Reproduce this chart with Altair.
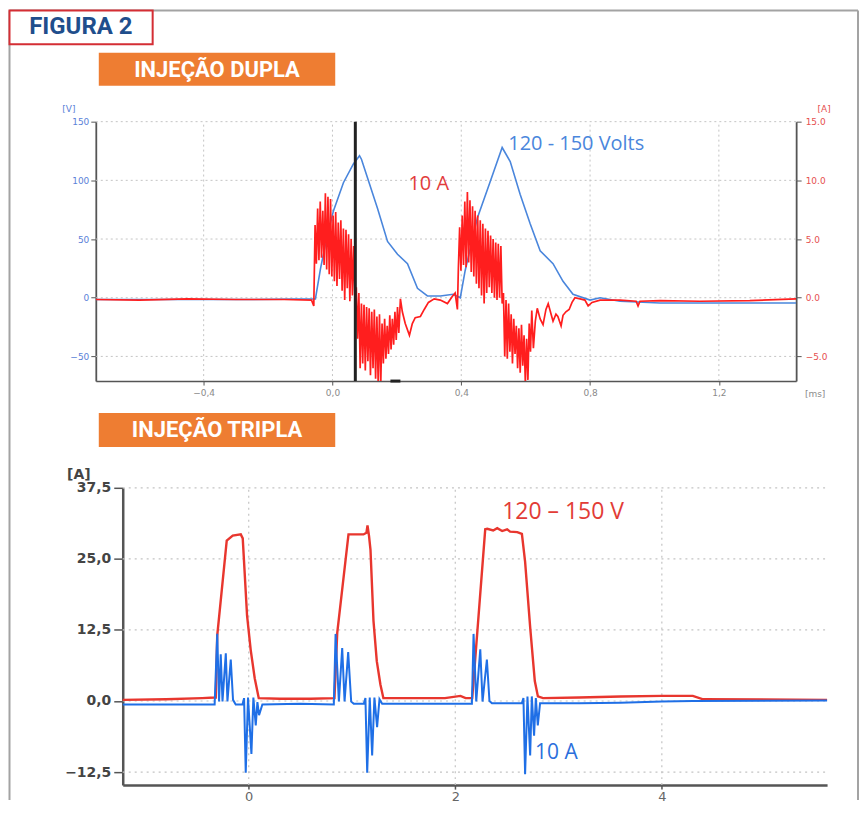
import altair as alt
import pandas as pd

# ======================= TOP PANEL: INJEÇÃO DUPLA =======================
TOP_T_DOMAIN = [-0.735, 1.44]      # ms
TOP_V_DOMAIN = [-71, 150]          # V (left axis)
TOP_A_DOMAIN = [-7.1, 15.0]        # A (right axis)
TOP_T_TICKS = [-0.4, 0.0, 0.4, 0.8, 1.2]
TOP_V_TICKS = [-50, 0, 50, 100, 150]
TOP_A_TICKS = [-5, 0, 5, 10, 15]

# voltage trace (blue, V)
VOLT_T = [-0.735, -0.5, -0.25, -0.053, -0.045, -0.037, -0.017, 0.003, 0.034, 0.065,
          0.084, 0.090, 0.109, 0.140, 0.171, 0.202, 0.233, 0.264, 0.295, 0.335,
          0.375, 0.397, 0.412, 0.450, 0.490, 0.527, 0.552, 0.583, 0.614, 0.645,
          0.685, 0.716, 0.747, 0.800, 0.831, 0.893, 1.017, 1.44]
VOLT_V = [-1.5, -1.5, -1.5, -1.0, 12, 25, 52, 74, 98, 114,
          121, 118, 102, 76, 48, 37, 29, 8, 1.5, 1.5,
          3, 0, 23, 68, 99, 128, 116, 88, 63, 40,
          29, 14, 3, -2, 0, -3, -4.5, -4.5]

# current trace (red, A) in pieces
CUR_PRE_T = [-0.735, -0.6, -0.45, -0.3, -0.15, -0.065, -0.058]
CUR_PRE_A = [-0.15, -0.2, -0.1, -0.15, -0.15, -0.2, -0.7]
CUR_B1_T = [-0.054, -0.050, -0.046, -0.042, -0.038, -0.034, -0.030, -0.026, -0.022, -0.018,
            -0.014, -0.010, -0.006, -0.002, 0.002, 0.006, 0.010, 0.014, 0.018, 0.022,
            0.026, 0.030, 0.034, 0.038, 0.042, 0.046, 0.050, 0.054, 0.058, 0.062,
            0.066, 0.070]
CUR_B1_A = [6.2, 2.9, 7.6, 3.2, 8.2, 3.4, 7.4, 2.8, 8.9, 2.4,
            8.6, 2.0, 8.4, 1.8, 7.0, 1.4, 7.3, 1.0, 6.4, 1.6,
            6.6, 0.6, 5.9, -0.2, 5.8, 0.8, 5.4, -0.3, 5.0, 0.2,
            4.4, -0.3]
CUR_B2_T = [0.074, 0.078, 0.082, 0.086, 0.090, 0.094, 0.098, 0.102, 0.106, 0.110,
            0.114, 0.118, 0.122, 0.126, 0.130, 0.134, 0.138, 0.142, 0.146, 0.150,
            0.154, 0.158, 0.162, 0.166, 0.170, 0.174, 0.178, 0.182, 0.186, 0.190,
            0.194, 0.198, 0.202, 0.206, 0.211]
CUR_B2_A = [0.9, -3.5, 0.4, -6.0, -0.5, -5.6, -0.6, -6.2, -0.8, -5.4,
            -0.9, -6.6, -1.2, -6.0, -1.0, -6.9, -1.6, -7.3, -1.4, -7.3,
            -2.2, -5.6, -1.8, -5.2, -2.4, -4.8, -1.5, -4.4, -1.8, -4.0,
            -1.2, -3.6, -0.8, -3.0, -0.1]
CUR_MID_T = [0.217, 0.226, 0.239, 0.248, 0.257, 0.273, 0.285, 0.298, 0.316, 0.335,
             0.357, 0.372, 0.381, 0.388]
CUR_MID_A = [-1.2, -2.2, -3.2, -2.2, -1.7, -1.6, -1.0, -0.4, -0.1, -0.2,
             -0.5, 0.1, 0.4, -1.0]
CUR_B3_T = [0.391, 0.395, 0.399, 0.403, 0.407, 0.411, 0.415, 0.419, 0.423, 0.427,
            0.431, 0.435, 0.439, 0.443, 0.447, 0.451, 0.455, 0.459, 0.463, 0.467,
            0.471, 0.475, 0.479, 0.483, 0.487, 0.491, 0.495, 0.499, 0.503, 0.507,
            0.511, 0.515, 0.519, 0.523, 0.527]
CUR_B3_A = [2.5, 6.0, 2.3, 7.0, 2.8, 8.2, 2.6, 9.0, 3.0, 8.3,
            2.2, 7.8, 1.8, 7.4, 1.2, 7.0, 0.8, 6.6, 0.2, 6.3,
            -0.5, 5.9, 0.4, 5.7, 0.9, 5.3, 0.4, 5.0, 0.0, 4.7,
            -0.2, 4.6, 0.0, 4.4, -0.5]
CUR_B4_T = [0.531, 0.535, 0.539, 0.543, 0.547, 0.551, 0.555, 0.559, 0.563, 0.567,
            0.571, 0.575, 0.579, 0.583, 0.587, 0.591, 0.595, 0.599, 0.603, 0.607,
            0.611, 0.615, 0.619]
CUR_B4_A = [0.4, -5.0, -0.2, -5.2, -0.5, -4.6, -1.4, -5.6, -1.8, -4.8,
            -2.4, -6.0, -2.6, -6.4, -2.3, -5.8, -3.2, -7.3, -3.5, -7.0,
            -2.2, -4.6, -1.1]
CUR_POST_T = [0.624, 0.630, 0.636, 0.645, 0.654, 0.663, 0.670, 0.679, 0.685, 0.694,
              0.700, 0.710, 0.716, 0.725, 0.735, 0.744, 0.753, 0.769, 0.784, 0.794,
              0.806, 0.831, 0.893, 0.943, 0.949, 0.955, 1.017, 1.141, 1.296, 1.44]
CUR_POST_A = [-4.3, -2.0, -0.9, -1.8, -2.3, -1.0, -0.5, -1.4, -2.0, -1.4,
              -1.6, -2.4, -1.5, -1.2, -1.0, -0.4, 0.0, -0.1, -0.2, -0.7,
              -0.4, -0.2, -0.2, -0.3, -0.7, -0.3, -0.25, -0.3, -0.25, -0.1]

CURSOR_T = [0.071]
MARKER_T = [0.18, 0.211]

TOP_NOTE_TEXT = ["120 - 150 Volts", "10 A"]
TOP_NOTE_T = [0.546, 0.236]
TOP_NOTE_V = [131, 97]

# ======================= BOTTOM PANEL: INJEÇÃO TRIPLA =======================
BOT_T_DOMAIN = [-1.22, 5.6]
BOT_A_DOMAIN = [-14.8, 37.5]
BOT_T_TICKS = [0, 2, 4]
BOT_A_TICKS = [-12.5, 0.0, 12.5, 25.0, 37.5]

RED3_T = [-1.22, -0.8, -0.45, -0.33, -0.319, -0.305, -0.213, -0.155, -0.077, -0.058,
          -0.016, 0.019, 0.058, 0.097, 0.3, 0.6, 0.83, 0.857, 0.966, 1.111,
          1.14, 1.15, 1.165, 1.179, 1.208, 1.24, 1.275, 1.304, 1.6, 1.9,
          2.05, 2.1, 2.164, 2.29, 2.31, 2.367, 2.406, 2.454, 2.502, 2.531,
          2.6, 2.645, 2.676, 2.725, 2.77, 2.80, 2.85, 3.2, 3.6, 4.0,
          4.3, 4.4, 5.6]
RED3_A = [0.2, 0.3, 0.5, 0.6, 0.6, 11.5, 28.2, 29.1, 29.3, 28.6,
          15.0, 9.0, 4.0, 0.5, 0.4, 0.4, 0.5, 12.0, 29.3, 29.3,
          29.6, 30.9, 29.0, 26.6, 14.1, 7.0, 2.9, 0.5, 0.5, 0.5,
          0.9, 0.5, 0.5, 30.2, 30.3, 30.0, 30.4, 29.9, 30.2, 29.8,
          29.7, 29.4, 24.5, 13.0, 3.5, 0.8, 0.5, 0.6, 0.8, 0.9,
          0.9, 0.3, 0.2]
BLUE3_T = [-1.22, -0.6, -0.33, -0.305, -0.287, -0.271, -0.254, -0.222, -0.206, -0.174,
           -0.152, -0.126, -0.061, -0.045, -0.029, -0.007, 0.026, 0.045, 0.068, 0.084,
           0.100, 0.132, 0.5, 0.824, 0.841, 0.873, 0.905, 0.928, 0.963, 0.992,
           1.017, 1.114, 1.130, 1.147, 1.172, 1.195, 1.217, 1.243, 1.266, 1.292,
           1.7, 2.161, 2.177, 2.203, 2.242, 2.264, 2.306, 2.331, 2.355, 2.644,
           2.660, 2.676, 2.699, 2.725, 2.741, 2.763, 2.780, 2.799, 2.821, 3.2,
           3.6, 4.0, 4.3, 5.6]
BLUE3_A = [-0.6, -0.6, -0.6, 11.8, -0.1, 8.2, -0.1, 8.4, -0.1, 7.3,
           0.2, -0.6, -0.6, 0.5, -12.6, 0.6, -9.3, 0.6, -4.3, -0.2,
           -2.5, -0.6, -0.5, -0.6, 11.8, -0.1, 9.3, -0.1, 8.6, -0.1,
           -0.5, -0.5, 0.5, -12.6, 0.6, -9.6, 0.6, -4.6, 0.3, -0.5,
           -0.5, -0.5, 11.8, -0.1, 9.1, -0.1, 7.3, 0.0, -0.4, -0.4,
           0.5, -12.9, 0.8, -9.6, 0.8, -6.1, 0.5, -4.3, -0.4, -0.4,
           -0.3, -0.1, 0.0, 0.1]

BOT_NOTE_TEXT = ["120 \u2013 150 V", "10 A"]
BOT_NOTE_T = [2.454, 2.773]
BOT_NOTE_A = [33.2, -9.1]

# ======================= layout / style constants =======================
TOP_W, TOP_H = 702, 260
BOT_W, BOT_H = 733, 298
BOT_X0 = 27          # bottom plot starts 27px right of the top one
GAP = 107

C_BLUE_T = "#4a86dc"
C_RED_T = "#ff1e1e"
C_RED_B = "#e8362e"
C_BLUE_B = "#1f6fe6"
C_GRID = "#c4c4c4"
C_AXIS = "#555555"
C_ORANGE = "#ee7d32"
FONT_NARROW = "Liberation Sans Narrow, Roboto, sans-serif"

ONE = pd.DataFrame({"k": [0]})


def deco_rule(color, width, x, y, x2=None, y2=None):
    enc = {"x": alt.value(x), "y": alt.value(y)}
    if x2 is not None:
        enc["x2"] = alt.value(x2)
    if y2 is not None:
        enc["y2"] = alt.value(y2)
    return alt.Chart(ONE).mark_rule(color=color, strokeWidth=width).encode(**enc)


def deco_rect(x, x2, y, y2, fill, stroke=None, sw=0):
    kw = {"fill": fill}
    if stroke is not None:
        kw["stroke"] = stroke
        kw["strokeWidth"] = sw
    return alt.Chart(ONE).mark_rect(**kw).encode(
        x=alt.value(x), x2=alt.value(x2), y=alt.value(y), y2=alt.value(y2))


def deco_text(x, y, text, size, color, weight="normal", font="DejaVu Sans", align="center"):
    return alt.Chart(ONE).mark_text(
        fontSize=size, color=color, fontWeight=weight, font=font,
        align=align, baseline="middle").encode(
        x=alt.value(x), y=alt.value(y), text=alt.value(text))


# ----------------------------- top chart -----------------------------
xs_top = alt.Scale(domain=TOP_T_DOMAIN, nice=False, zero=False)
vs_top = alt.Scale(domain=TOP_V_DOMAIN, nice=False, zero=False)
as_top = alt.Scale(domain=TOP_A_DOMAIN, nice=False, zero=False)

x_axis_top = alt.Axis(values=TOP_T_TICKS, title=None, grid=False,
                      labelExpr="replace(format(datum.value, '.1f'), '.', ',')",
                      domainColor=C_AXIS, domainWidth=1.5, tickColor=C_AXIS, tickSize=4,
                      labelColor="#8a8a8a", labelFontSize=9, labelPadding=3,
                      labelFont="DejaVu Sans")
v_axis = alt.Axis(values=TOP_V_TICKS, title=None, grid=False, format="d",
                  domainColor=C_AXIS, domainWidth=1.8, tickColor=C_AXIS, tickSize=5,
                  labelColor="#5b82d8", labelFontSize=9, labelPadding=2,
                  labelFont="DejaVu Sans")
a_axis = alt.Axis(values=TOP_A_TICKS, title=None, grid=False, format=".1f", orient="right",
                  domainColor=C_AXIS, domainWidth=1.8, tickColor=C_AXIS, tickSize=5,
                  labelColor="#e65050", labelFontSize=9, labelPadding=4,
                  labelFont="DejaVu Sans")

X_T = lambda f: alt.X(f, type="quantitative", scale=xs_top, axis=x_axis_top)
Y_V = lambda f: alt.Y(f, type="quantitative", scale=vs_top, axis=v_axis)

hgrid_df = pd.DataFrame({"v": TOP_V_TICKS, "t0": TOP_T_DOMAIN[0], "t1": TOP_T_DOMAIN[1]})
vgrid_df = pd.DataFrame({"t": TOP_T_TICKS, "v0": TOP_V_DOMAIN[0], "v1": TOP_V_DOMAIN[1]})
volt_df = pd.DataFrame({"t": VOLT_T, "v": VOLT_V})
cur_df = pd.DataFrame({
    "t": CUR_PRE_T + CUR_B1_T + CUR_B2_T + CUR_MID_T + CUR_B3_T + CUR_B4_T + CUR_POST_T,
    "a": CUR_PRE_A + CUR_B1_A + CUR_B2_A + CUR_MID_A + CUR_B3_A + CUR_B4_A + CUR_POST_A,
})
top_notes = pd.DataFrame({"t": TOP_NOTE_T, "v": TOP_NOTE_V, "label": TOP_NOTE_TEXT,
                          "c": [C_BLUE_T, "#e23c3c"]})
cursor_df = pd.DataFrame({"t": CURSOR_T, "v0": [TOP_V_DOMAIN[0]], "v1": [TOP_V_DOMAIN[1]]})
marker_df = pd.DataFrame({"t0": [MARKER_T[0]], "t1": [MARKER_T[1]], "v": [TOP_V_DOMAIN[0]]})

hgrid = alt.Chart(hgrid_df).mark_rule(color=C_GRID, strokeDash=[2, 3], strokeWidth=1).encode(
    x=X_T("t0"), x2="t1", y=Y_V("v"))
vgrid = alt.Chart(vgrid_df).mark_rule(color=C_GRID, strokeDash=[2, 3], strokeWidth=1).encode(
    x=X_T("t"), y=Y_V("v0"), y2="v1")
blue_line = alt.Chart(volt_df).mark_line(color=C_BLUE_T, strokeWidth=1.6, clip=True).encode(
    x=X_T("t"), y=Y_V("v"), order="t:Q")
notes_top = alt.Chart(top_notes).mark_text(
    font="Open Sans", fontSize=20, align="left", baseline="middle").encode(
    x=X_T("t"), y=Y_V("v"), text="label:N", color=alt.Color("c:N", scale=None))

frame = alt.layer(
    deco_rule("#a3a3a3", 2, -86.5, -111.5, y2=680),
    deco_rule("#a3a3a3", 2, -86.5, -111.5, x2=764),
    deco_rule("#a3a3a3", 2, 764, -111.5, y2=680),
    deco_rect(-86.5, 57, -111.5, -77.5, "#ffffff", "#d42e34", 2),
    deco_text(-15, -94.5, "FIGURA 2", 24, "#1f4e8c", "bold", FONT_NARROW),
    deco_rect(3, 240, -69, -36, C_ORANGE),
    deco_text(121.5, -52, "INJEÇÃO DUPLA", 22, "#ffffff", "bold", FONT_NARROW),
    deco_text(-27, -13, "[V]", 9, "#5b82d8"),
    deco_text(730, -13, "[A]", 9, "#e65050"),
    deco_text(721, 273, "[ms]", 9, "#8a8a8a"),
)

left_group = alt.layer(frame, hgrid, vgrid, blue_line, notes_top)

red_line = alt.Chart(cur_df).mark_line(color=C_RED_T, strokeWidth=1.7, clip=True).encode(
    x=X_T("t"), y=alt.Y("a:Q", scale=as_top, axis=a_axis), order="t:Q")

cursor = alt.layer(
    alt.Chart(cursor_df).mark_rule(color="#222222", strokeWidth=3).encode(
        x=X_T("t"), y=alt.Y("v0:Q", scale=vs_top, axis=None), y2="v1"),
    alt.Chart(marker_df).mark_rule(color="#222222", strokeWidth=3).encode(
        x=X_T("t0"), x2="t1", y=alt.Y("v:Q", scale=vs_top, axis=None)),
)

top = alt.layer(left_group, red_line, cursor).resolve_scale(y="independent").properties(
    width=TOP_W, height=TOP_H)

# ----------------------------- bottom chart -----------------------------
xs_bot = alt.Scale(domain=BOT_T_DOMAIN, range=[BOT_X0, BOT_W], nice=False, zero=False)
ys_bot = alt.Scale(domain=BOT_A_DOMAIN, nice=False, zero=False)

x_axis_bot = alt.Axis(values=BOT_T_TICKS, title=None, grid=False, format="d",
                      domainColor=C_AXIS, domainWidth=2.5, tickColor=C_AXIS, tickWidth=1.5,
                      tickSize=4, labelColor="#666666", labelFontSize=13, labelPadding=1,
                      labelFont="DejaVu Sans")
y_axis_bot = alt.Axis(values=BOT_A_TICKS, title=None, grid=False, offset=-BOT_X0,
                      labelExpr="replace(format(datum.value, '.1f'), '.', ',')",
                      domainColor=C_AXIS, domainWidth=2.5, tickColor=C_AXIS, tickWidth=1.5,
                      tickSize=9, labelColor="#444444", labelFontSize=14, labelPadding=3,
                      labelFont="DejaVu Sans", labelFontWeight="bold")

X_B = lambda f: alt.X(f, type="quantitative", scale=xs_bot, axis=x_axis_bot)
Y_B = lambda f: alt.Y(f, type="quantitative", scale=ys_bot, axis=y_axis_bot)

bh_df = pd.DataFrame({"a": BOT_A_TICKS, "t0": BOT_T_DOMAIN[0], "t1": BOT_T_DOMAIN[1]})
bv_df = pd.DataFrame({"t": BOT_T_TICKS, "a0": BOT_A_DOMAIN[0], "a1": BOT_A_DOMAIN[1]})
red3_df = pd.DataFrame({"t": RED3_T, "a": RED3_A})
blue3_df = pd.DataFrame({"t": BLUE3_T, "a": BLUE3_A})
bot_notes = pd.DataFrame({"t": BOT_NOTE_T, "a": BOT_NOTE_A, "label": BOT_NOTE_TEXT,
                          "c": ["#e23c36", "#2b6fdc"], "s": [23, 21]})

bh = alt.Chart(bh_df).mark_rule(color=C_GRID, strokeDash=[2, 4], strokeWidth=1.2).encode(
    x=X_B("t0"), x2="t1", y=Y_B("a"))
bv = alt.Chart(bv_df).mark_rule(color=C_GRID, strokeDash=[2, 4], strokeWidth=1.2).encode(
    x=X_B("t"), y=Y_B("a0"), y2="a1")
red3 = alt.Chart(red3_df).mark_line(color=C_RED_B, strokeWidth=2.4).encode(
    x=X_B("t"), y=Y_B("a"), order="t:Q")
blue3 = alt.Chart(blue3_df).mark_line(color=C_BLUE_B, strokeWidth=2).encode(
    x=X_B("t"), y=Y_B("a"), order="t:Q")
notes_bot = alt.Chart(bot_notes).mark_text(
    font="Open Sans", align="left", baseline="middle").encode(
    x=X_B("t"), y=Y_B("a"), text="label:N", color=alt.Color("c:N", scale=None),
    size=alt.Size("s:Q", scale=None))

bot_deco = alt.layer(
    deco_rect(3, 240, -75, -41, C_ORANGE),
    deco_text(121.5, -58, "INJEÇÃO TRIPLA", 22, "#ffffff", "bold", FONT_NARROW),
    deco_text(-17, -13, "[A]", 14, "#444444", "bold"),
)

bottom = alt.layer(bot_deco, bh, bv, red3, blue3, notes_bot).properties(
    width=BOT_W, height=BOT_H)

chart = alt.vconcat(top, bottom, spacing=GAP, bounds="flush").properties(
    padding=0
).configure_view(stroke=None).configure_axis(grid=False)

chart.save("out.html", embed_options={"renderer": "svg", "actions": False})
